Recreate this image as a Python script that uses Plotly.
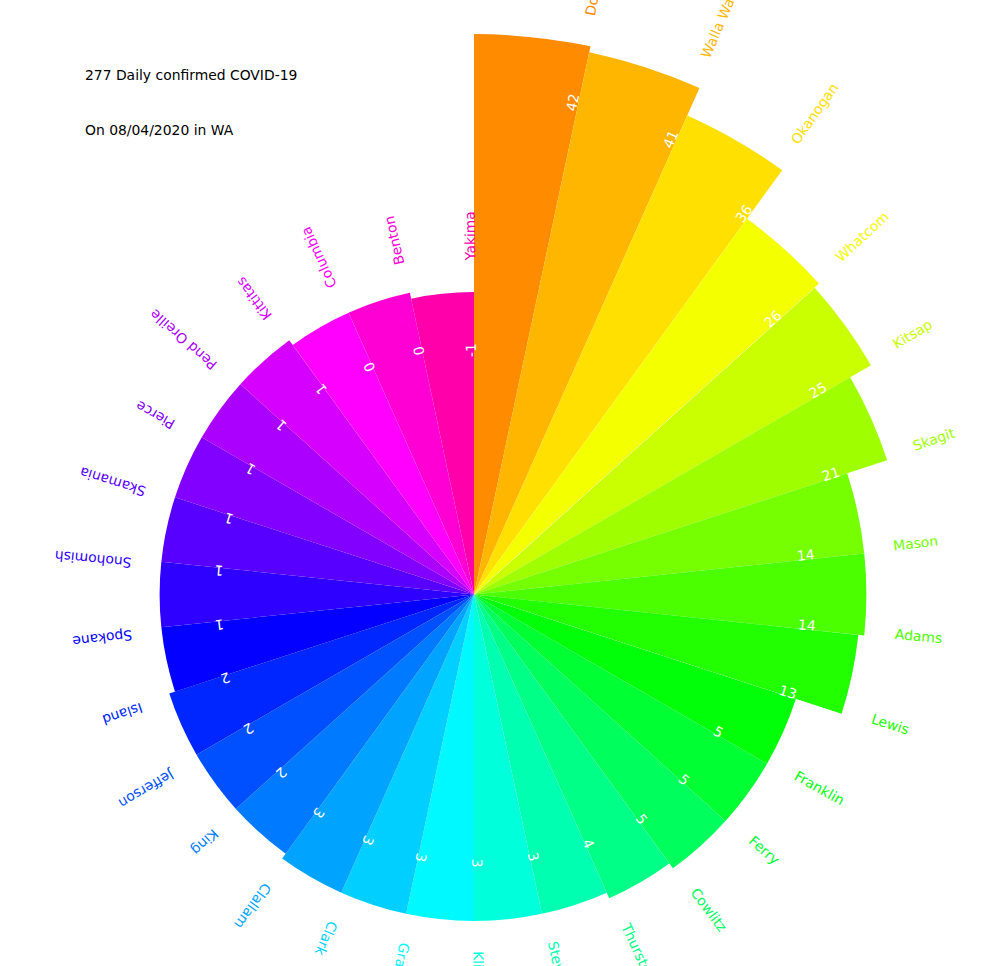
import math
import colorsys
import plotly.graph_objects as go

# ---------------- data ----------------
counties = ["Douglas", "Walla Walla", "Okanogan", "Whatcom", "Kitsap", "Skagit",
            "Mason", "Adams", "Lewis", "Franklin", "Ferry", "Cowlitz", "Thurston",
            "Stevens", "Klickitat", "Grays Harbor", "Clark", "Clallam", "King",
            "Jefferson", "Island", "Spokane", "Snohomish", "Skamania", "Pierce",
            "Pend Oreille", "Kittitas", "Columbia", "Benton", "Yakima"]
daily_cases = [42, 41, 36, 26, 25, 21, 14, 14, 13, 5, 5, 5, 4,
               3, 3, 3, 3, 3, 2, 2, 2, 1, 1, 1, 1, 1, 1, 0, 0, -1]
title_line1 = "277 Daily confirmed COVID-19"
title_line2 = "On 08/04/2020 in WA"

# ---------------- geometry / style ----------------
W, H = 1000, 966
CX, CY = 474.0, 594.5          # centre of the polar chart in pixels
PX_PER_UNIT = 6.0
R_MIN = -51.4                  # radial value at the centre
FONT = "DejaVu Sans"
FS = 13.9

n = len(counties)
step = 360.0 / n
centers = [step * i + step / 2 for i in range(n)]
label_angles = [step * (i + 1) - 0.7 for i in range(n)]

colors = []
for i in range(n):
    h = ((33.0 + 9.9 * i) % 360) / 360.0
    r, g, b = colorsys.hsv_to_rgb(h, 1.0, 1.0)
    colors.append("#%02x%02x%02x" % (round(r * 255), round(g * 255), round(b * 255)))

# DejaVu Sans advance widths (em) used to centre rotated labels
CHAR_W = {'A': .684, 'B': .686, 'C': .698, 'D': .770, 'F': .575, 'G': .775,
          'I': .295, 'J': .295, 'K': .656, 'L': .557, 'M': .863, 'O': .787,
          'P': .603, 'S': .635, 'T': .611, 'W': .989, 'Y': .611,
          'a': .613, 'b': .635, 'c': .550, 'd': .635, 'e': .615, 'f': .352,
          'g': .635, 'h': .634, 'i': .278, 'k': .579, 'l': .278, 'm': .974,
          'n': .634, 'o': .612, 'p': .635, 'r': .411, 's': .521, 't': .392,
          'u': .634, 'v': .592, 'w': .818, 'y': .592, 'z': .525, ' ': .318}


def sector_bbox(s0, s1):
    pts = [(0.0, 0.0)]
    for a in (s0, s1):
        pts.append((math.cos(math.radians(a)), math.sin(math.radians(a))))
    for k in range(-4, 9):
        a = 90 * k
        if s0 <= a <= s1:
            pts.append((math.cos(math.radians(a)), math.sin(math.radians(a))))
    xs = [p[0] for p in pts]
    ys = [p[1] for p in pts]
    return min(xs), min(ys), max(xs), max(ys)


def polar_layout(sector, radius_px):
    if sector is None:
        bx0, by0, bx1, by1 = -1, -1, 1, 1
    else:
        bx0, by0, bx1, by1 = sector_bbox(*sector)
    dom = dict(x=[(CX + radius_px * bx0) / W, (CX + radius_px * bx1) / W],
               y=[1 - (CY - radius_px * by0) / H, 1 - (CY - radius_px * by1) / H])
    lay = dict(
        domain=dom,
        bgcolor="rgba(0,0,0,0)",
        radialaxis=dict(visible=False, range=[R_MIN, R_MIN + radius_px / PX_PER_UNIT],
                        showgrid=False),
        angularaxis=dict(visible=False, rotation=90, direction="clockwise",
                         showgrid=False, thetaunit="degrees"),
        bargap=0,
    )
    if sector is not None:
        lay["sector"] = list(sector)
    return lay


# bar groups: (subplot, first index, last index, sector in screen degrees, radius px)
groups = [
    ("polar", 9, 29, None, 370.0),
    ("polar2", 0, 3, (42, 90), 590.0),
    ("polar3", 4, 8, (-18, 42), 480.0),
]

fig = go.Figure()
layout_polars = {}
for sub, i0, i1, sector, rad in groups:
    idx = list(range(i0, i1 + 1))
    fig.add_trace(go.Barpolar(
        r=[daily_cases[i] - R_MIN for i in idx],
        base=R_MIN,
        theta=[centers[i] for i in idx],
        width=[step] * len(idx),
        marker=dict(color=[colors[i] for i in idx], line=dict(width=0)),
        text=[counties[i] for i in idx],
        hoverinfo="text",
        showlegend=False,
        subplot=sub,
    ))
    layout_polars[sub] = polar_layout(sector, rad)

annotations = []
for i, (name, v) in enumerate(zip(counties, daily_cases)):
    th = math.radians(label_angles[i])
    rot = label_angles[i] - 90
    sin_t, cos_t = math.sin(th), math.cos(th)
    # county name outside the bar: anchored at its inner end, shifted outwards by half its width
    half_w = sum(CHAR_W.get(ch, .6) for ch in name) * FS / 2
    r_start = (v - R_MIN) + 30 / PX_PER_UNIT
    annotations.append(dict(
        x=r_start * sin_t, y=r_start * cos_t, xref="x", yref="y",
        xshift=half_w * sin_t, yshift=half_w * cos_t,
        text=name, showarrow=False, textangle=rot, xanchor="center", yanchor="middle",
        font=dict(family=FONT, size=FS, color=colors[i]), borderpad=0))
    # value inside the bar
    r_val = (v - R_MIN) - 58 / PX_PER_UNIT
    annotations.append(dict(
        x=r_val * sin_t, y=r_val * cos_t, xref="x", yref="y",
        text=str(v), showarrow=False, textangle=rot, xanchor="center", yanchor="middle",
        font=dict(family=FONT, size=FS, color="white"), borderpad=0))

annotations.append(dict(x=84 / W, y=1 - 74.5 / H, xref="paper", yref="paper",
                        text=title_line1, showarrow=False, xanchor="left", yanchor="middle",
                        font=dict(family=FONT, size=FS, color="black"), borderpad=0))
annotations.append(dict(x=84 / W, y=1 - 129.5 / H, xref="paper", yref="paper",
                        text=title_line2, showarrow=False, xanchor="left", yanchor="middle",
                        font=dict(family=FONT, size=FS, color="black"), borderpad=0))

fig.update_layout(
    width=W, height=H, autosize=False,
    margin=dict(l=0, r=0, t=0, b=0, pad=0),
    paper_bgcolor="white", plot_bgcolor="rgba(0,0,0,0)",
    showlegend=False,
    xaxis=dict(domain=[0, 1], range=[-CX / PX_PER_UNIT, (W - CX) / PX_PER_UNIT],
               visible=False, fixedrange=True),
    yaxis=dict(domain=[0, 1], range=[-(H - CY) / PX_PER_UNIT, CY / PX_PER_UNIT],
               visible=False, fixedrange=True),
    annotations=annotations,
    **layout_polars,
)

fig.write_html("out.html")
